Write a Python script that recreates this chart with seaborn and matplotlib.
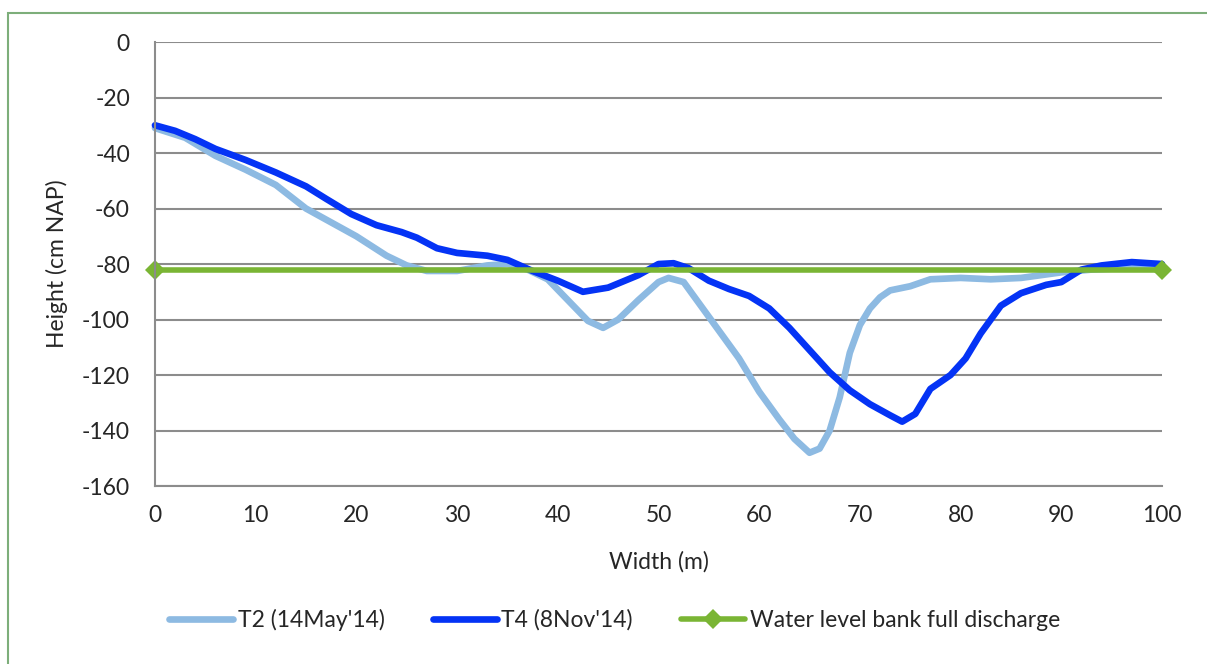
import numpy as np
import pandas as pd
import matplotlib.pyplot as plt
import seaborn as sns
from matplotlib.patches import Rectangle

# cross section readings (width in m, height in cm NAP)
t2_width = [0, 3, 6, 9, 12, 15, 18, 20, 23, 25, 27, 30, 33, 35, 37, 39, 41, 43, 44.5, 46,
            48, 50, 51, 52.5, 54, 56, 58, 60, 62, 63.5, 65, 66, 67, 68, 69, 70, 71, 72, 73,
            75, 77, 80, 83, 86, 88, 90, 93, 96, 100]
t2_height = [-31, -34.5, -41, -46, -51.5, -60, -66, -70, -77, -80.5, -82.5, -82.5, -80.5, -80,
             -82, -85.5, -93, -100.5, -103, -100, -93, -86.5, -85, -86.5, -94, -104, -114, -126,
             -136, -143, -148, -146.5, -140, -128, -112, -102, -96, -92, -89.5, -88, -85.5, -85,
             -85.5, -85, -84, -83, -82, -81.5, -81.5]

t4_width = [0, 2, 4, 6, 9, 12, 15, 17, 19.5, 22, 24.5, 26, 28, 30, 33, 35, 37.5, 40, 42.5, 45,
            48, 50, 51.5, 53, 55, 57, 59, 61, 63, 65, 67, 69, 71, 73, 74.2, 75.5, 77, 79, 80.5,
            82, 84, 86, 88.5, 90, 92, 94, 97, 100]
t4_height = [-30, -32, -35, -38.5, -42.5, -47, -52, -56.5, -62, -66, -68.5, -70.5, -74.3, -76,
             -77, -78.5, -82.5, -86, -90, -88.5, -84, -80, -79.7, -81.5, -86, -89, -91.5, -96,
             -103, -111, -119, -125.5, -130.5, -134.5, -136.8, -134, -125, -120, -114, -105, -95,
             -90.5, -87.5, -86.5, -82, -80.5, -79.3, -80]

wl_width = [0, 100]
wl_height = [-82, -82]

labels = ["T2 (14May'14)", "T4 (8Nov'14)", "Water level bank full discharge"]
colors = ["#8DBAE2", "#0433F5", "#7AB534"]

sns.set_theme(style="white")
plt.rcParams['font.family'] = ['Lato', 'DejaVu Sans']
plt.rcParams['axes.unicode_minus'] = False

fig = plt.figure(figsize=(12.07, 6.64), dpi=100)
ax = fig.add_axes([0.1284, 0.268, 0.8343, 0.6687])

sns.lineplot(x=t2_width, y=t2_height, ax=ax, color=colors[0], lw=4.8, label=labels[0],
             sort=False, estimator=None, solid_joinstyle="round", solid_capstyle="round")
sns.lineplot(x=t4_width, y=t4_height, ax=ax, color=colors[1], lw=4.8, label=labels[1],
             sort=False, estimator=None, solid_joinstyle="round", solid_capstyle="round")
sns.lineplot(x=wl_width, y=wl_height, ax=ax, color=colors[2], lw=4, label=labels[2],
             marker="D", markersize=10, markeredgewidth=0, sort=False, estimator=None)
for ln in ax.lines:
    ln.set_clip_on(False)

ax.set_xlim(0, 100)
ax.set_ylim(-160, 0)
ax.set_xticks(np.arange(0, 101, 10))
ax.set_yticks(np.arange(-160, 1, 20))
ax.tick_params(axis="x", labelsize=16.5, length=0, pad=14)
ax.tick_params(axis="y", labelsize=16.5, length=0, pad=18)
ax.yaxis.grid(True, color="#8C8C8C", lw=1.5)
ax.xaxis.grid(False)
ax.set_axisbelow(True)
for s in ["top", "right"]:
    ax.spines[s].set_visible(False)
for s in ["left", "bottom"]:
    ax.spines[s].set_color("#8C8C8C")
    ax.spines[s].set_linewidth(1.5)

ax.set_xlabel("Width (m)", fontsize=16.5, labelpad=18)
ax.set_ylabel("Height (cm NAP)", fontsize=16.5, labelpad=10)

ax.get_legend().remove()
h, l = ax.get_legend_handles_labels()
fig.legend(h, l, loc="center", bbox_to_anchor=(0.509, 0.067), ncol=3, frameon=False,
           fontsize=16.5, handlelength=2.8, columnspacing=2.1, handletextpad=0.2)

# green frame round the chart
fig.patches.append(Rectangle((8 / 1207, -0.1), 1.2, 1.1 - 13 / 664, transform=fig.transFigure,
                             fill=False, edgecolor="#7DAE7A", lw=1.5))

fig.savefig("out.png", dpi=100)
